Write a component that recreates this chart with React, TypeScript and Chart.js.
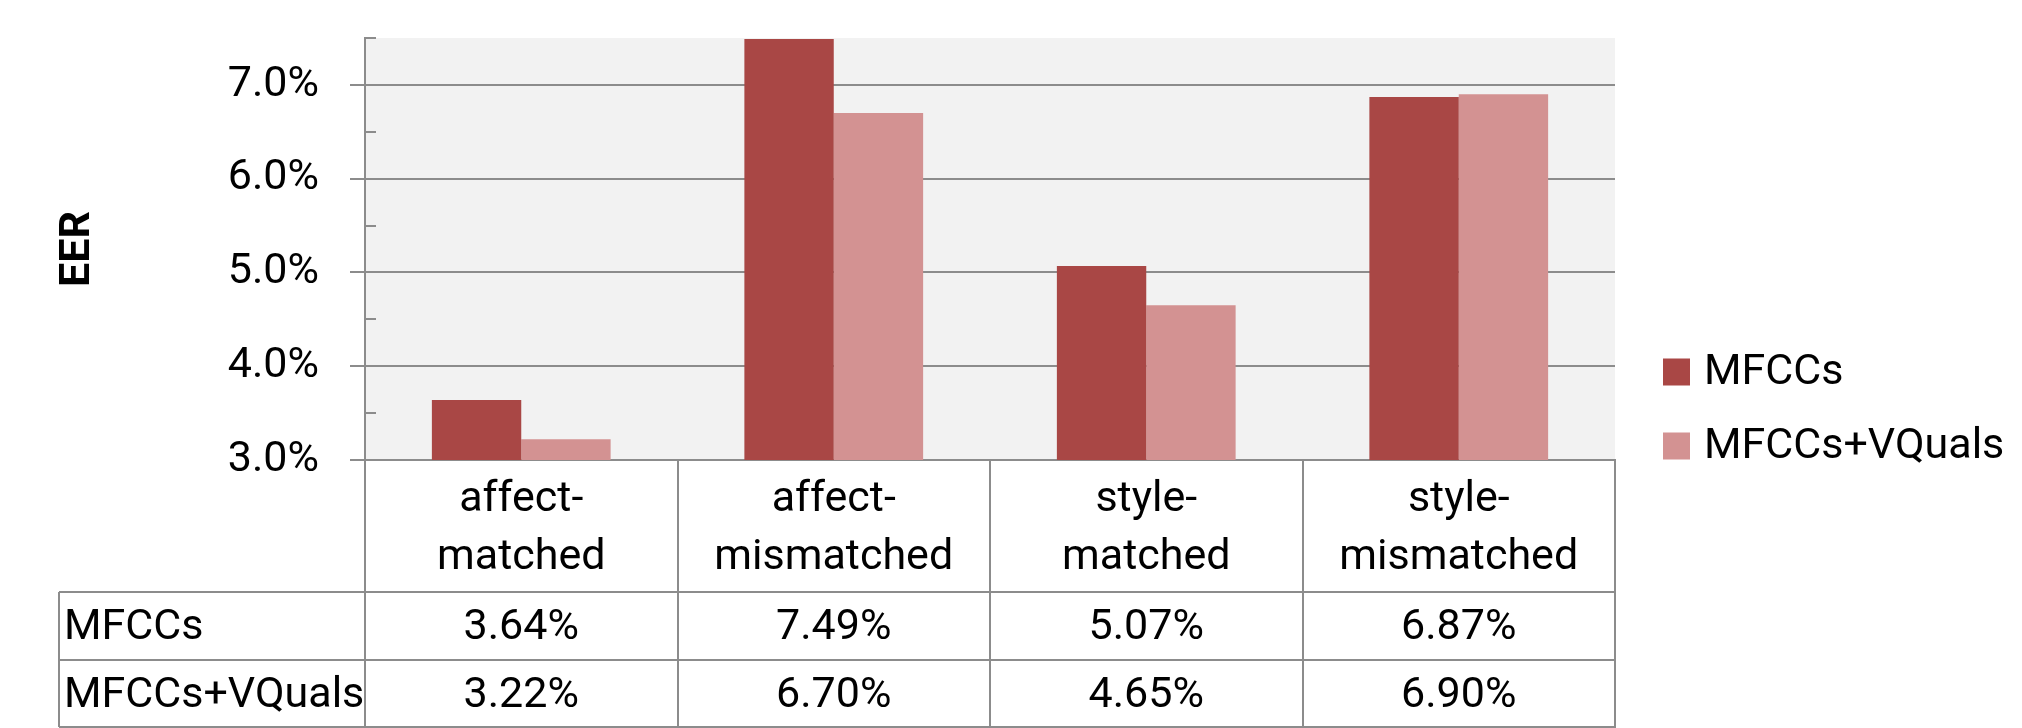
import React, { useEffect, useRef } from "react";
import { Chart, registerables } from "chart.js";

Chart.register(...registerables);

const categories: string[][] = [
  ["affect-", "matched"],
  ["affect-", "mismatched"],
  ["style-", "matched"],
  ["style-", "mismatched"],
];
const seriesNames = ["MFCCs", "MFCCs+VQuals"];
const mfccs = [3.64, 7.49, 5.07, 6.87];
const mfccsVQuals = [3.22, 6.7, 4.65, 6.9];
const seriesColors = ["#A94745", "#D39292"];
const yMin = 3;
const yMax = 7.5;
const yStep = 1;
const yTitle = "EER";

const FONT = "Roboto";
const LINE = "#8c8c8c";

const tablePlugin = {
  id: "tablePlugin",
  beforeDraw(chart: any) {
    const { ctx, chartArea } = chart;
    ctx.save();
    ctx.fillStyle = "#F2F2F2";
    ctx.fillRect(chartArea.left, chartArea.top, chartArea.right - chartArea.left, chartArea.bottom - chartArea.top);
    ctx.restore();
  },
  afterDraw(chart: any) {
    const { ctx, chartArea } = chart;
    const x = chart.scales.x;
    const y = chart.scales.y;
    ctx.save();
    // minor ticks inside plot
    ctx.strokeStyle = LINE;
    ctx.lineWidth = 2;
    for (let v = yMin + 0.5; v <= yMax + 1e-9; v += 1) {
      const py = Math.round(y.getPixelForValue(v));
      ctx.beginPath();
      ctx.moveTo(chartArea.left, py);
      ctx.lineTo(chartArea.left + 11, py);
      ctx.stroke();
    }
    // table horizontal lines
    const tableLeft = 59;
    const rowYs = [592, 660, 727];
    ctx.beginPath();
    for (const ry of rowYs) {
      ctx.moveTo(tableLeft, ry);
      ctx.lineTo(chartArea.right + 1, ry);
    }
    ctx.moveTo(tableLeft, rowYs[0]);
    ctx.lineTo(tableLeft, rowYs[2]);
    ctx.stroke();

    ctx.fillStyle = "#000";
    ctx.font = `43px ${FONT}`;
    ctx.textAlign = "center";
    ctx.textBaseline = "alphabetic";
    // header
    categories.forEach((lines, i) => {
      const cx = x.getPixelForValue(i);
      lines.forEach((t, j) => {
        ctx.fillText(t, cx, 511 + j * 58);
      });
    });
    // rows
    const rows = [mfccs, mfccsVQuals];
    const baselines = [639, 707];
    rows.forEach((vals, r) => {
      ctx.textAlign = "left";
      ctx.fillText(seriesNames[r], 64, baselines[r]);
      ctx.textAlign = "center";
      vals.forEach((v, i) => {
        ctx.fillText(v.toFixed(2) + "%", x.getPixelForValue(i), baselines[r]);
      });
    });
    // legend
    const legendX = 1663;
    const legendYs = [372, 446];
    chart.data.datasets.forEach((ds: any, i: number) => {
      ctx.fillStyle = ds.backgroundColor;
      ctx.fillRect(legendX, legendYs[i] - 13.5, 27, 27);
      ctx.fillStyle = "#000";
      ctx.textAlign = "left";
      ctx.textBaseline = "middle";
      ctx.fillText(ds.label, legendX + 41, legendYs[i] + 1);
    });
    ctx.restore();
  },
};

export default function App() {
  const ref = useRef<HTMLCanvasElement | null>(null);
  useEffect(() => {
    document.body.style.margin = "0";
    document.body.style.overflow = "hidden";
    const canvas = ref.current!;
    const chart = new Chart(canvas, {
      type: "bar",
      data: {
        labels: categories.map((c) => c.join("")),
        datasets: [
          { label: seriesNames[0], data: mfccs, backgroundColor: seriesColors[0], borderWidth: 0 },
          { label: seriesNames[1], data: mfccsVQuals, backgroundColor: seriesColors[1], borderWidth: 0 },
        ],
      },
      options: {
        responsive: false,
        devicePixelRatio: 1,
        animation: false,
        layout: { padding: { left: 0, top: 38, right: 2022 - 1615, bottom: 0 } },
        datasets: { bar: { categoryPercentage: 0.572, barPercentage: 1 } },
        plugins: { legend: { display: false }, tooltip: { enabled: false } },
        scales: {
          x: {
            ticks: { display: false },
            grid: {
              offset: true,
              drawOnChartArea: false,
              drawTicks: true,
              tickLength: 268,
              color: LINE,
              lineWidth: 2,
            },
            border: { display: true, color: LINE, width: 2 },
            afterFit: (s: any) => {
              s.height = 728 - 460;
              s.paddingLeft = 0;
              s.paddingRight = 0;
              s.paddingTop = 0;
              s.paddingBottom = 0;
            },
          },
          y: {
            min: yMin,
            max: yMax,
            ticks: {
              stepSize: yStep,
              includeBounds: false,
              padding: 31,
              color: "#000",
              font: { family: FONT, size: 43 },
              callback: (v: any) => Number(v).toFixed(1) + "%",
            },
            grid: { color: LINE, lineWidth: 2, tickLength: 15 },
            border: { display: true, color: LINE, width: 2 },
            title: {
              display: true,
              text: yTitle,
              color: "#000",
              font: { family: FONT, size: 43, weight: "bold" },
              padding: { top: 52, bottom: 0 },
            },
            afterFit: (s: any) => {
              s.width = 365;
              s.paddingTop = 0;
              s.paddingBottom = 0;
              s.paddingLeft = 0;
              s.paddingRight = 0;
            },
          },
        },
      },
      plugins: [tablePlugin],
    });
    return () => chart.destroy();
  }, []);
  return (
    <div style={{ width: 2022, height: 728 }}>
      <canvas ref={ref} width={2022} height={728} style={{ display: "block", width: 2022, height: 728 }} />
    </div>
  );
}
